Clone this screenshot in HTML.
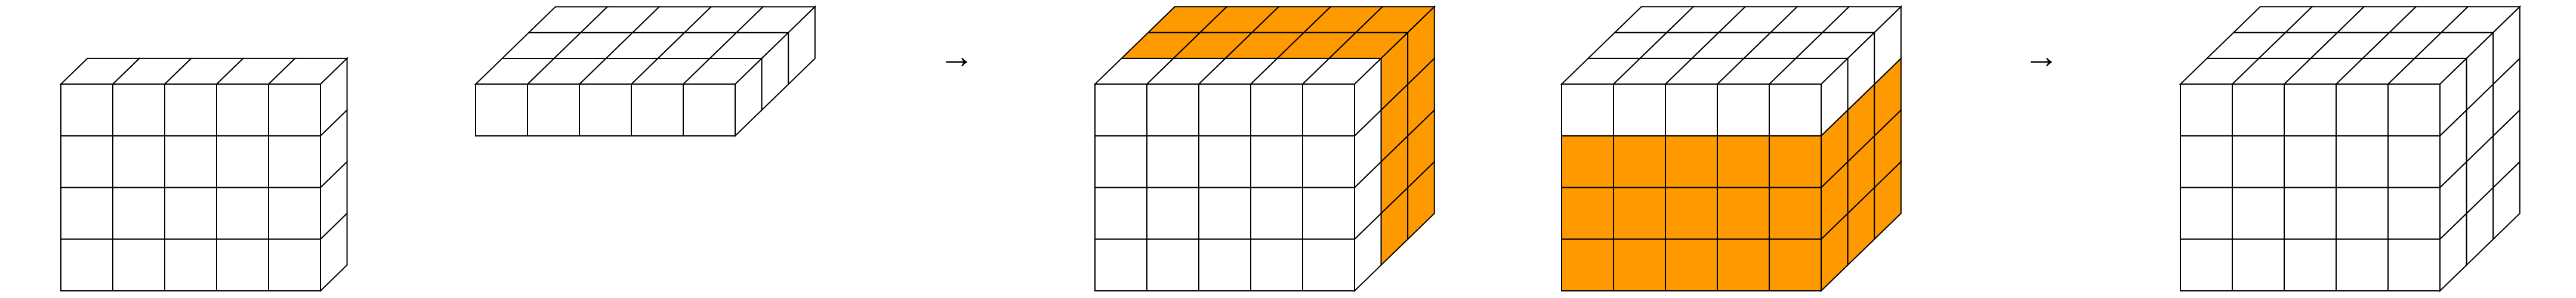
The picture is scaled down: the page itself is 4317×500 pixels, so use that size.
<!DOCTYPE html>
<html><head><meta charset="utf-8"><style>html,body{margin:0;padding:0;background:#fff;width:4317px;height:500px;overflow:hidden}</style></head>
<body>
<svg id="fig" width="4317" height="500" viewBox="0 0 4317 500" xmlns="http://www.w3.org/2000/svg">
<text x="1573" y="114" font-family="Liberation Sans, DejaVu Sans, sans-serif" font-size="60">→</text>
<text x="3391" y="114" font-family="Liberation Sans, DejaVu Sans, sans-serif" font-size="60">→</text>
</svg>
<script>
const cubeLefts=[102,797,1835,2617,3654];
const cubeBottoms=[488,228,488,488,488];
const cubeW=[5,5,5,5,5];
const cubeH=[4,1,4,4,4];
const cubeD=[1,3,3,3,3];
const CW=87, CH=86.7, DX=44.6, DY=43.3;
const OR='#ff9900';
function topFill(c,d){return c===2&&d>=1?OR:'#fff';}
function frontFill(c,r){return c===3&&r<3?OR:'#fff';}
function sideFill(c,d,r){if(c===2&&d>=1)return OR;if(c===3&&r<3)return OR;return '#fff';}
const svg=document.getElementById('fig');
const NS='http://www.w3.org/2000/svg';
function poly(pts,fill,name){const p=document.createElementNS(NS,'polygon');p.setAttribute('points',pts.map(q=>q.join(',')).join(' '));p.setAttribute('fill',fill);p.setAttribute('stroke','#000');p.setAttribute('stroke-width','2');p.setAttribute('stroke-linejoin','miter');


return p;}
cubeLefts.forEach((x0,c)=>{
 const g=document.createElementNS(NS,'g');
 
 
 const y0=cubeBottoms[c],W=cubeW[c],H=cubeH[c],D=cubeD[c];
 const top=y0-H*CH;
 for(let d=0;d<D;d++)for(let i=0;i<W;i++){
  const bx=x0+i*CW+d*DX, by=top-d*DY;
  g.appendChild(poly([[bx,by],[bx+CW,by],[bx+CW+DX,by-DY],[bx+DX,by-DY]],topFill(c,d),'top-cell'));
 }
 for(let d=0;d<D;d++)for(let r=0;r<H;r++){
  const bx=x0+W*CW+d*DX, by=y0-r*CH-d*DY;
  g.appendChild(poly([[bx,by],[bx+DX,by-DY],[bx+DX,by-DY-CH],[bx,by-CH]],sideFill(c,d,r),'side-cell'));
 }
 for(let r=0;r<H;r++)for(let i=0;i<W;i++){
  const bx=x0+i*CW, by=y0-r*CH;
  g.appendChild(poly([[bx,by],[bx+CW,by],[bx+CW,by-CH],[bx,by-CH]],frontFill(c,r),'front-cell'));
 }
 svg.appendChild(g);
});
</script>
</body></html>
